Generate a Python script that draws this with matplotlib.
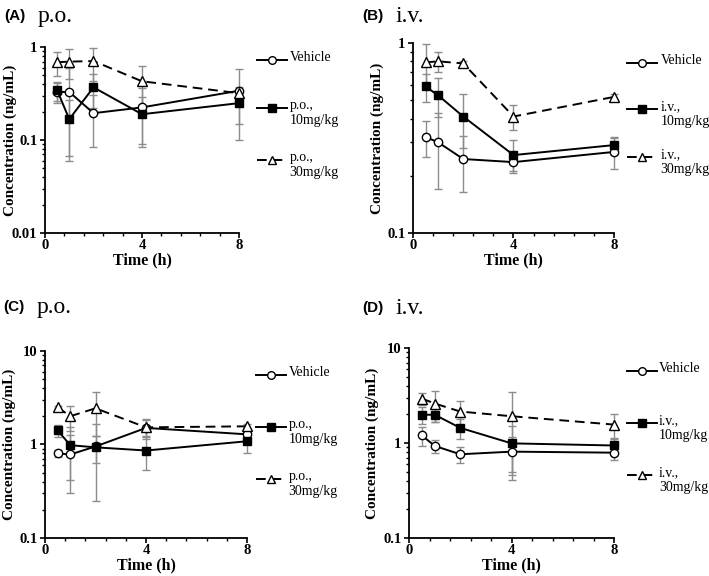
import matplotlib
matplotlib.use("Agg")
import matplotlib.pyplot as plt
from matplotlib.ticker import LogLocator, FuncFormatter, MultipleLocator, AutoMinorLocator, NullFormatter
from matplotlib.lines import Line2D

# sampling times (h)
times = [0.5, 1, 2, 4, 8]

# panel A: p.o.
a_vehicle = [0.33, 0.33, 0.195, 0.225, 0.34]
a_vehicle_sd = [0.08, 0.27, 0.11, 0.14, 0.24]
a_low = [0.345, 0.168, 0.37, 0.19, 0.25]
a_low_sd = [0.08, 0.10, 0.15, 0.10, 0.10]
a_high = [0.69, 0.70, 0.71, 0.43, 0.32]
a_high_sd = [0.20, 0.25, 0.28, 0.20, 0.05]

# panel B: i.v.
b_vehicle = [0.32, 0.30, 0.245, 0.236, 0.267]
b_vehicle_sd = [0.07, 0.13, 0.08, 0.025, 0.05]
b_low = [0.59, 0.53, 0.41, 0.257, 0.29]
b_low_sd = [0.10, 0.12, 0.13, 0.05, 0.03]
b_high = [0.79, 0.80, 0.78, 0.41, 0.52]
b_high_sd = [0.20, 0.10, 0.02, 0.06, 0.02]

# panel C: p.o.
c_vehicle = [0.80, 0.78, 0.95, 1.50, 1.28]
c_vehicle_sd = [0.07, 0.48, 0.70, 0.35, 0.20]
c_low = [1.41, 0.98, 0.93, 0.86, 1.08]
c_low_sd = [0.20, 0.56, 0.30, 0.33, 0.28]
c_high = [2.49, 2.00, 2.43, 1.52, 1.56]
c_high_sd = [0.10, 0.60, 1.20, 0.30, 0.10]

# panel D: i.v.
d_vehicle = [1.20, 0.93, 0.76, 0.81, 0.79]
d_vehicle_sd = [0.27, 0.15, 0.15, 0.35, 0.13]
d_low = [1.98, 1.98, 1.44, 0.99, 0.94]
d_low_sd = [0.40, 0.30, 0.35, 0.50, 0.20]
d_high = [2.93, 2.60, 2.14, 1.91, 1.56]
d_high_sd = [0.40, 0.95, 0.60, 1.50, 0.45]

serif = "Liberation Serif"
sans = "Liberation Sans"

fig = plt.figure(figsize=(7.09, 5.76), dpi=100)

panels = [
    # rect, letter, route, ylim, series, legend x (handle start, end, text), legend ys, heading pos
    ([0.0635, 0.5955, 0.2735, 0.3225], "(A)", "p.o.", (0.01, 1),
     (a_vehicle, a_vehicle_sd, a_low, a_low_sd, a_high, a_high_sd),
     (1.093, 1.247, 1.262), (0.930, 0.672, 0.392), (0.006, 0.053, 0.972)),
    ([0.5825, 0.5955, 0.2835, 0.3300], "(B)", "i.v.", (0.1, 1),
     (b_vehicle, b_vehicle_sd, b_low, b_low_sd, b_high, b_high_sd),
     (1.065, 1.214, 1.232), (0.895, 0.653, 0.400), (0.511, 0.558, 0.972)),
    ([0.0635, 0.0660, 0.2850, 0.3250], "(C)", "p.o.", (0.1, 10),
     (c_vehicle, c_vehicle_sd, c_low, c_low_sd, c_high, c_high_sd),
     (1.045, 1.193, 1.205), (0.872, 0.594, 0.316), (0.004, 0.051, 0.467)),
    ([0.5770, 0.0660, 0.2890, 0.3300], "(D)", "i.v.", (0.1, 10),
     (d_vehicle, d_vehicle_sd, d_low, d_low_sd, d_high, d_high_sd),
     (1.063, 1.210, 1.220), (0.876, 0.603, 0.330), (0.511, 0.558, 0.465)),
]

err_color = "#8c8c8c"

for rect, letter, route, ylim, series, lx, lys, hd in panels:
    ax = fig.add_axes(rect)
    veh, veh_sd, low, low_sd, high, high_sd = series

    styles = [
        (veh, veh_sd, "o", "white", "-"),
        (low, low_sd, "s", "black", "-"),
        (high, high_sd, "^", "white", (0, (5, 3))),
    ]
    for vals, sd, mk, fc, ls in styles:
        lower = [min(s, v - ylim[0] * 1.01) for v, s in zip(vals, sd)]
        ax.errorbar(times, vals, yerr=[lower, sd], fmt="none", ecolor=err_color,
                    elinewidth=1.0, capsize=3, capthick=1.0, zorder=2, clip_on=False)
    for vals, sd, mk, fc, ls in styles:
        ax.plot(times, vals, color="black", lw=1.4, ls=ls, marker=mk,
                markersize=6 if mk != "^" else 6.5, markerfacecolor=fc,
                markeredgecolor="black", markeredgewidth=1.0, zorder=3, clip_on=False)

    ax.set_yscale("log")
    ax.set_ylim(*ylim)
    ax.set_xlim(0, 8)
    ax.xaxis.set_major_locator(MultipleLocator(4))
    ax.xaxis.set_minor_locator(AutoMinorLocator(5))
    ax.yaxis.set_major_locator(LogLocator(base=10))
    ax.yaxis.set_minor_locator(LogLocator(base=10, subs=range(2, 10)))
    ax.yaxis.set_minor_formatter(NullFormatter())
    ax.yaxis.set_major_formatter(FuncFormatter(lambda v, p: "%g" % v))

    for s in ("top", "right"):
        ax.spines[s].set_visible(False)
    for s in ("left", "bottom"):
        ax.spines[s].set_linewidth(1.3)
    ax.tick_params(which="major", direction="out", length=3.5, width=1.2)
    ax.tick_params(which="minor", direction="out", length=2.5, width=1.0)
    ax.tick_params(axis="y", which="major", pad=2)
    ax.tick_params(axis="x", which="major", pad=1)
    for lab in ax.get_xticklabels() + ax.get_yticklabels():
        lab.set_fontfamily(serif)
        lab.set_fontweight("bold")
        lab.set_fontsize(10.5)

    ax.set_xlabel("Time (h)", fontfamily=serif, fontweight="bold", fontsize=11.5, labelpad=0)
    ax.set_ylabel("Concentration (ng/mL)", fontfamily=serif, fontweight="bold", fontsize=11)
    ax.yaxis.set_label_coords(-0.145, 0.5)

    # panel headings
    fig.text(hd[0], hd[2], letter, fontfamily=sans, fontweight="bold",
             fontsize=11, va="center", ha="left")
    fig.text(hd[1], hd[2], route, fontfamily=serif, fontsize=17,
             va="center", ha="left")

    # legend, drawn beside the axes
    names = ["Vehicle", route + ",\n10mg/kg", route + ",\n30mg/kg"]
    for (vals, sd, mk, fc, ls), name, ly in zip(styles, names, lys):
        mid = (lx[0] + lx[1]) / 2
        ax.add_line(Line2D([lx[0], lx[1]], [ly, ly], transform=ax.transAxes,
                           color="black", lw=1.4, ls=ls, clip_on=False))
        ax.add_line(Line2D([mid], [ly], transform=ax.transAxes, marker=mk,
                           markersize=5.5, markerfacecolor=fc, markeredgecolor="black",
                           markeredgewidth=1.0, ls="none", clip_on=False))
        ax.annotate(name, xy=(lx[2], ly), xycoords=ax.transAxes,
                    xytext=(0, 6.5), textcoords="offset points",
                    fontfamily=serif, fontsize=10, va="top", ha="left",
                    linespacing=1.2, annotation_clip=False)

fig.savefig("out.png", dpi=100)
